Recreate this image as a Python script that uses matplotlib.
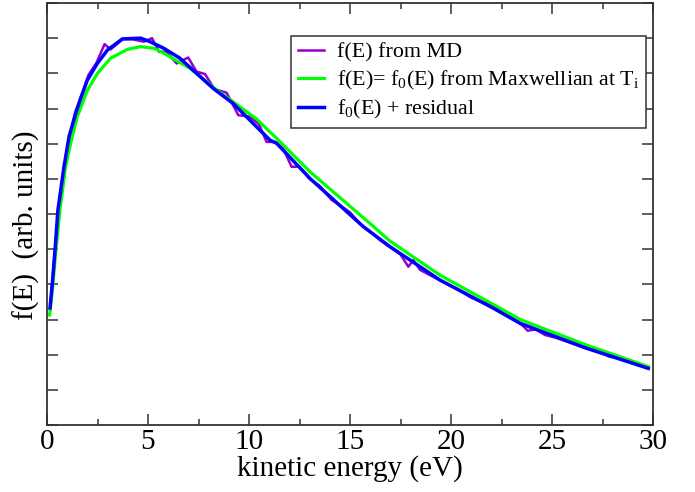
import numpy as np
import matplotlib
matplotlib.use("Agg")
import matplotlib.pyplot as plt
from matplotlib.ticker import MultipleLocator, NullFormatter

plt.rcParams['font.family'] = ['Liberation Serif', 'DejaVu Serif']
plt.rcParams['mathtext.fontset'] = 'custom'
plt.rcParams['mathtext.rm'] = 'Liberation Serif'
plt.rcParams['mathtext.it'] = 'Liberation Serif:italic'

# f(E) from MD (noisy histogram)
e_md = [0.15, 0.4, 0.6, 0.85, 1.1, 1.4, 1.75, 2.05, 2.45, 2.85, 3.15, 3.4, 3.75,
        4.2, 4.8, 5.2, 5.55, 5.9, 6.42, 6.99, 7.4, 7.82, 8.3, 8.89, 9.47, 10.05,
        10.5, 10.87, 11.3, 11.7, 12.11, 12.5, 13.0, 13.5, 14.09, 14.5, 15.0, 15.5,
        16.0, 16.5, 17.0, 17.5, 17.89, 18.13, 18.47, 19.0, 19.5, 20.0, 20.5, 21.0,
        21.5, 22.0, 22.5, 23.0, 23.42, 23.8, 24.2, 24.65, 25.2, 25.7, 26.2, 26.7,
        27.38, 27.8, 28.3, 28.8, 29.3, 29.75]
f_md = [3.30, 5.0, 6.3, 7.3, 8.15, 8.9, 9.45, 9.95, 10.3, 10.83, 10.68, 10.80, 10.97,
        10.97, 10.90, 11.0, 10.61, 10.62, 10.28, 10.45, 10.05, 9.98, 9.55, 9.45, 8.81, 8.77,
        8.55, 8.05, 8.05, 7.85, 7.34, 7.35, 7.0, 6.8, 6.40, 6.25, 6.05, 5.72,
        5.5, 5.25, 5.05, 4.85, 4.50, 4.69, 4.41, 4.25, 4.1, 3.95, 3.8, 3.62,
        3.5, 3.44, 3.2, 3.05, 2.9, 2.68, 2.72, 2.56, 2.48, 2.38, 2.28, 2.18,
        2.13, 1.95, 1.9, 1.8, 1.7, 1.62]

# Maxwellian at T_i
e_max = [0.13, 0.28, 0.43, 0.64, 0.92, 1.17, 1.5, 2.0, 2.5, 3.15, 3.98, 4.64, 5.3,
         5.79, 7.08, 8.4, 10.38, 11.37, 13.02, 15.99, 16.98, 19.46, 22.43, 23.42,
         26.72, 29.77]
f_max = [3.13, 3.9, 4.9, 6.11, 7.34, 8.01, 8.77, 9.52, 10.0, 10.43, 10.68, 10.76, 10.71,
         10.57, 10.14, 9.53, 8.70, 8.15, 7.20, 5.73, 5.23, 4.26, 3.32, 3.0,
         2.27, 1.66]

# f0(E) + residual
e_res = [0.15, 0.26, 0.40, 0.54, 0.84, 1.09, 1.42, 1.67, 2.0, 2.49, 2.99, 3.73, 4.64,
         5.10, 5.79, 6.58, 8.23, 9.22, 11.04, 11.37, 13.02, 15.66, 16.98, 19.46, 22.1,
         23.42, 26.72, 29.77]
f_res = [3.33, 4.0, 5.0, 6.11, 7.34, 8.20, 8.86, 9.29, 9.81, 10.28, 10.66, 10.98, 11.0,
         10.90, 10.71, 10.43, 9.57, 9.14, 8.10, 8.01, 7.01, 5.64, 5.07, 4.12, 3.32,
         2.89, 2.18, 1.61]

fig = plt.figure(figsize=(6.95, 4.92), dpi=100)
ax = fig.add_axes([47/695, 67/492, 606/695, 422/492])

ax.plot(e_md, f_md, color='#9400d3', lw=1.8, label='f(E) from MD')
ax.plot(e_max, f_max, color='#00ff00', lw=2.3,
        label='f(E)= f$_0$(E) from Maxwellian at T$_\\mathrm{i}$')
ax.plot(e_res, f_res, color='#0000ff', lw=2.5, label='f$_0$(E) + residual')

ax.set_xlim(0, 30)
ax.set_ylim(0, 12)
ax.xaxis.set_major_locator(MultipleLocator(5))
ax.xaxis.set_minor_locator(MultipleLocator(2.5))
ax.yaxis.set_major_locator(MultipleLocator(1))
ax.yaxis.set_major_formatter(NullFormatter())
ax.tick_params(which='both', direction='in', top=True, right=True, color='#333333',
               width=1.1, labelsize=21, pad=3)
ax.tick_params(which='major', length=8)
ax.tick_params(which='minor', length=4)
for s in ax.spines.values():
    s.set_color('#333333')
    s.set_linewidth(1.3)

ax.set_xlabel('kinetic energy (eV)', fontsize=21, labelpad=0)
ax.set_ylabel('f(E)  (arb. units)', fontsize=21)
ax.yaxis.set_label_coords(-0.012, 0.474)

leg = ax.legend(loc='upper left', bbox_to_anchor=(0.4026, 0.9218), borderaxespad=0,
                fontsize=15.8, frameon=True, fancybox=False, framealpha=1,
                handlelength=1.2, handletextpad=0.6, labelspacing=0.28, borderpad=0.3)
leg.get_frame().set_edgecolor('#333333')
leg.get_frame().set_linewidth(1.1)

fig.savefig('out.png', dpi=100)
